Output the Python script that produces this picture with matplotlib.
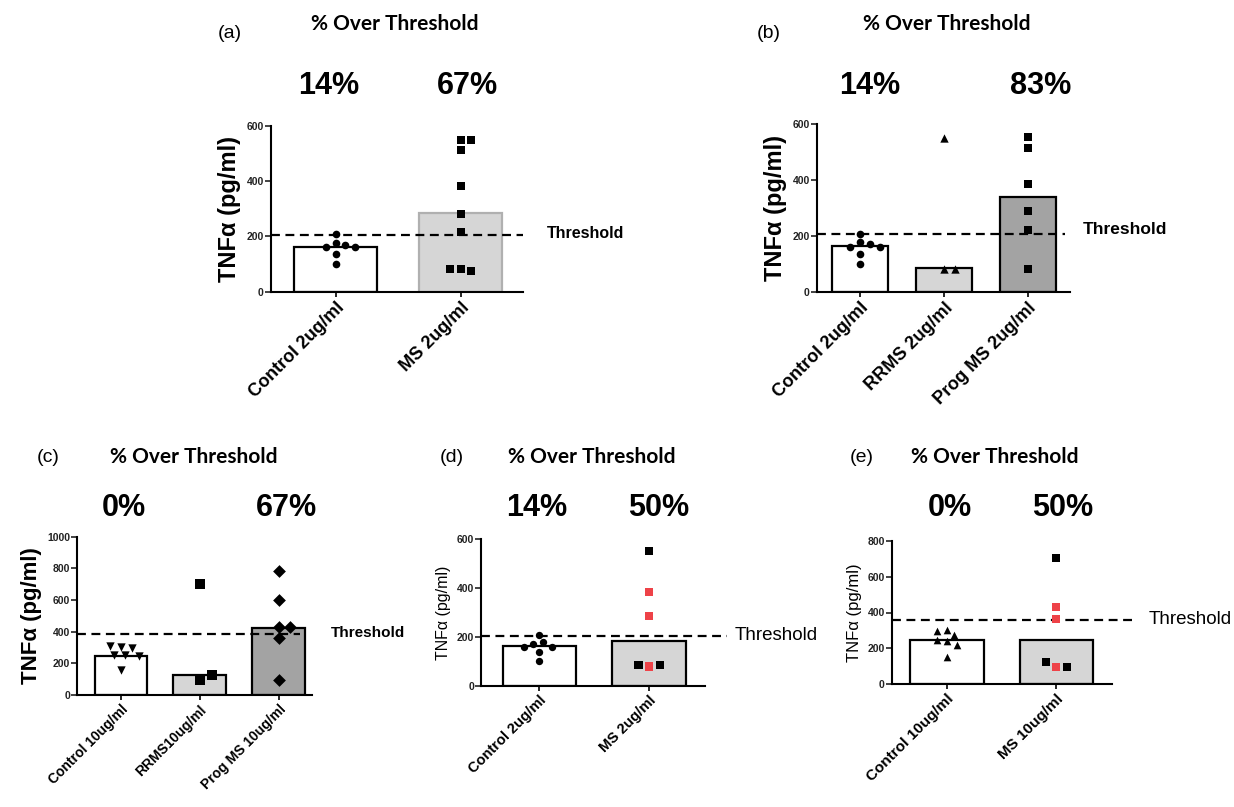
import numpy as np
import matplotlib.pyplot as plt

plt.rcParams['font.family'] = ['Liberation Sans', 'DejaVu Sans']

# ---- data (pg/ml) ----
ctrl_2ug = [208, 177, 169, 160, 160, 136, 100]
ms_2ug_all = [548, 548, 512, 382, 281, 214, 82, 76, 82]
rrms_2ug = [549, 83, 83]
prog_2ug = [552, 513, 386, 287, 219, 80]

ctrl_10ug_c = [305, 295, 309, 250, 253, 248, 158]
rrms_10ug = [700, 95, 125]
prog_10ug = [783, 600, 432, 432, 358, 95]

ms_2ug_d = [551, 384, 285, 78, 85, 85]
ms_2ug_d_flag = [0, 1, 1, 1, 0, 0]

ctrl_10ug_e = [303, 275, 297, 243, 247, 219, 154]
ms_10ug_e = [705, 429, 364, 98, 98, 126]
ms_10ug_e_flag = [0, 1, 1, 1, 0, 0]

# bar heights (medians as drawn)
bars_a = [160, 283]
bars_b = [163, 86, 338]
bars_c = [246, 126, 425]
bars_d = [162, 184]
bars_e = [247, 247]

thr_a, thr_b, thr_c, thr_d, thr_e = 205, 206, 385, 203, 358

labels_a = ['Control 2ug/ml', 'MS 2ug/ml']
labels_b = ['Control 2ug/ml', 'RRMS 2ug/ml', 'Prog MS 2ug/ml']
labels_c = ['Control 10ug/ml', 'RRMS10ug/ml', 'Prog MS 10ug/ml']
labels_d = ['Control 2ug/ml', 'MS 2ug/ml']
labels_e = ['Control 10ug/ml', 'MS 10ug/ml']

pct_a = ['14%', '67%']
pct_b = ['14%', '', '83%']
pct_c = ['0%', '', '67%']
pct_d = ['14%', '50%']
pct_e = ['0%', '50%']

W, H = 1234, 807
RED = '#ee4248'
LIGHT = '#d6d6d6'
DARK = '#a3a3a3'
PCT_FS = 22

fig = plt.figure(figsize=(W / 100, H / 100), dpi=100)


def px_axes(l, r, top, bottom):
    return fig.add_axes([l / W, 1 - bottom / H, (r - l) / W, (bottom - top) / H])


def ftext(x, y, s, **kw):
    fig.text(x / W, 1 - y / H, s, ha='center', va='center', **kw)


def swarm_x(ax, xc, vals, d):
    disp = ax.transData.transform(np.column_stack([np.full(len(vals), xc), vals]))
    placed = []
    for px, py in disp:
        cx = px
        for k in sorted(range(-14, 15), key=lambda k: (abs(k), -k)):
            cx = px + k * d * 0.4
            if all((cx - qx) ** 2 + (py - qy) ** 2 >= d * d for qx, qy in placed):
                break
        placed.append((cx, py))
    return ax.transData.inverted().transform(placed)[:, 0]


def setup(ax, xlim, ymax, ystep, labels, tick_fs):
    ax.set_xlim(*xlim)
    ax.set_ylim(0, ymax)
    ax.set_yticks(np.arange(0, ymax + 1, ystep))
    ax.set_xticks(range(len(labels)))
    ax.set_xticklabels(labels, rotation=45, ha='right', rotation_mode='anchor',
                       fontsize=tick_fs, fontweight='bold')
    for sp in ['top', 'right']:
        ax.spines[sp].set_visible(False)
    for sp in ['left', 'bottom']:
        ax.spines[sp].set_linewidth(1.5)
    ax.tick_params(axis='y', labelsize=7.5, width=1.2, length=4, colors='#222222', pad=1)
    ax.tick_params(axis='x', width=1.2, length=3.5, pad=2)
    for t in ax.get_yticklabels():
        t.set_fontweight('bold')


def bars(ax, heights, fills, edges):
    ax.bar(range(len(heights)), heights, width=0.67, color=fills, edgecolor=edges,
           linewidth=1.6, zorder=1)


def dots(ax, xc, vals, marker, ms, colors='k'):
    d = ms * 100 / 72 + 0.5
    xs = swarm_x(ax, xc, vals, d)
    ax.scatter(xs, vals, marker=marker, s=ms ** 2, c=colors, zorder=3, linewidths=0)


def threshold(ax, thr, x1):
    ax.plot([0, x1], [thr, thr], transform=ax.get_yaxis_transform(), color='k',
            lw=1.6, dashes=(4, 2.5), clip_on=False, zorder=2)


def header(letter_xy, title_x, title_y, pct_xs, pct_y, pcts):
    ftext(letter_xy[0], letter_xy[1], letter_xy[2], fontsize=14)
    ftext(title_x, title_y, '% Over Threshold', fontsize=15, fontweight='bold',
          family=['Lato', 'DejaVu Sans'])
    for x, p in zip(pct_xs, [p for p in pcts if p]):
        ftext(x, pct_y, p, fontsize=PCT_FS, fontweight='bold')


# ---- (a) ----
ax = px_axes(270.7, 523, 125.7, 291.7)
setup(ax, (-0.52, 1.5), 600, 200, labels_a, 13)
bars(ax, bars_a, ['white', LIGHT], ['black', '#b0b0b0'])
threshold(ax, thr_a, 1.0)
dots(ax, 0, ctrl_2ug, 'o', 5.5)
dots(ax, 1, ms_2ug_all, 's', 6)
ax.set_ylabel('TNFα (pg/ml)', fontsize=17, fontweight='bold', labelpad=4)
header((230, 33, '(a)'), 395, 24, [329, 467], 86, pct_a)
ftext(586, 234, 'Threshold', fontsize=11.5, fontweight='bold')

# ---- (b) ----
ax = px_axes(816.7, 1070, 124, 291.7)
setup(ax, (-0.515, 2.5), 600, 200, labels_b, 13)
bars(ax, bars_b, ['white', LIGHT, DARK], 'black')
threshold(ax, thr_b, 0.98)
dots(ax, 0, ctrl_2ug, 'o', 5.5)
dots(ax, 1, rrms_2ug, '^', 6)
dots(ax, 2, prog_2ug, 's', 6)
ax.set_ylabel('TNFα (pg/ml)', fontsize=17, fontweight='bold', labelpad=4)
header((769, 33, '(b)'), 947, 24, [870, 1041], 86, pct_b)
ftext(1125, 230, 'Threshold', fontsize=12.5, fontweight='bold')

# ---- (c) ----
ax = px_axes(77.3, 311.7, 536.7, 695)
setup(ax, (-0.555, 2.42), 1000, 200, labels_c, 10)
bars(ax, bars_c, ['white', LIGHT, DARK], 'black')
threshold(ax, thr_c, 0.95)
dots(ax, 0, ctrl_10ug_c, 'v', 6)
dots(ax, 1, rrms_10ug, 's', 7)
dots(ax, 2, prog_10ug, 'D', 6.5)
ax.set_ylabel('TNFα (pg/ml)', fontsize=16, fontweight='bold', labelpad=4)
header((48, 458, '(c)'), 194, 457, [124, 286], 508, pct_c)
ftext(368, 633, 'Threshold', fontsize=11, fontweight='bold')

# ---- (d) ----
ax = px_axes(481, 705, 539, 685.7)
setup(ax, (-0.533, 1.509), 600, 200, labels_d, 10.5)
bars(ax, bars_d, ['white', LIGHT], 'black')
threshold(ax, thr_d, 1.10)
dots(ax, 0, ctrl_2ug, 'o', 5.3)
dots(ax, 1, ms_2ug_d, 's', 6, [RED if f else 'black' for f in ms_2ug_d_flag])
ax.set_ylabel('TNFα (pg/ml)', fontsize=11.5, labelpad=4)
header((452, 458, '(d)'), 592, 457, [537, 659], 508, pct_d)
ftext(776, 635, 'Threshold', fontsize=13.5)

# ---- (e) ----
ax = px_axes(891.7, 1111.7, 540.7, 684.3)
setup(ax, (-0.506, 1.507), 800, 200, labels_e, 11)
bars(ax, bars_e, ['white', LIGHT], 'black')
threshold(ax, thr_e, 1.10)
dots(ax, 0, ctrl_10ug_e, '^', 5.5)
dots(ax, 1, ms_10ug_e, 's', 6, [RED if f else 'black' for f in ms_10ug_e_flag])
ax.set_ylabel('TNFα (pg/ml)', fontsize=12, labelpad=4)
header((862, 458, '(e)'), 995, 457, [950, 1063], 508, pct_e)
ftext(1190, 620, 'Threshold', fontsize=13.5)

fig.savefig('out.png', dpi=100)
